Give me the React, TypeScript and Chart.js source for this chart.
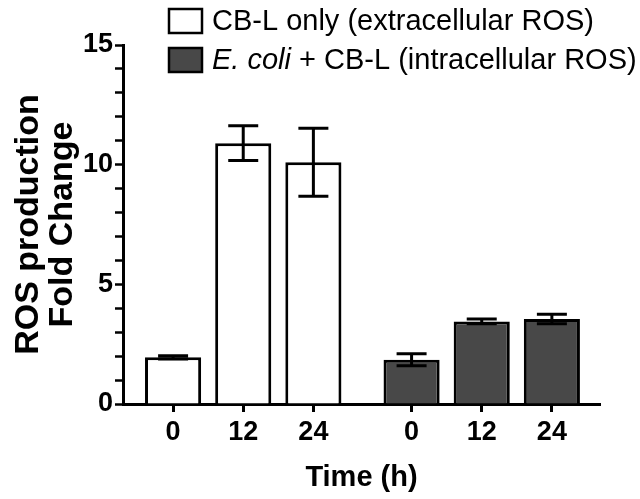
import { useEffect, useRef } from 'react';
import { Chart, registerables } from 'chart.js';

Chart.register(...registerables);

// ---- data ----
const TIME_LABELS = ['0', '12', '24', '0', '12', '24'];
const POSITIONS_A = [1, 2, 3];
const POSITIONS_B = [4.4, 5.4, 6.4];
const EXTRA_VALUES = [1.95, 10.9, 10.1];
const EXTRA_ERRORS = [0.07, 0.73, 1.42];
const INTRA_VALUES = [1.85, 3.45, 3.55];
const INTRA_ERRORS = [0.25, 0.1, 0.2];
const Y_TICK_LABELS = ['0', '5', '10', '15'];
const SERIES_A_LABEL = 'CB-L only (extracellular ROS)';
const SERIES_B_LABEL_ITALIC = 'E. coli';
const SERIES_B_LABEL_REST = ' + CB-L (intracellular ROS)';
const X_TITLE = 'Time (h)';
const Y_TITLE = ['ROS production', 'Fold Change'];

const FONT = '"Liberation Sans", Arial, Helvetica, sans-serif';
const DARK = '#484848';

const errorBarPlugin = {
  id: 'errorBars',
  afterDatasetsDraw(chart: any) {
    const { ctx } = chart;
    const yScale = chart.scales.y;
    chart.data.datasets.forEach((ds: any, di: number) => {
      const meta = chart.getDatasetMeta(di);
      meta.data.forEach((bar: any, i: number) => {
        const v = ds.data[i].y;
        const e = ds.errors[i];
        const x = bar.x;
        const yTop = yScale.getPixelForValue(v + e);
        const yBot = yScale.getPixelForValue(v - e);
        ctx.save();
        ctx.strokeStyle = '#000';
        ctx.lineWidth = 3;
        ctx.beginPath();
        ctx.moveTo(x, yTop);
        ctx.lineTo(x, yBot);
        ctx.moveTo(x - 15, yTop);
        ctx.lineTo(x + 15, yTop);
        ctx.moveTo(x - 15, yBot);
        ctx.lineTo(x + 15, yBot);
        ctx.stroke();
        ctx.restore();
      });
    });
  },
};

const legendPlugin = {
  id: 'customLegend',
  afterDraw(chart: any) {
    const { ctx } = chart;
    const rows = [
      { fill: '#ffffff', parts: [{ t: SERIES_A_LABEL, italic: false }] },
      {
        fill: DARK,
        parts: [
          { t: SERIES_B_LABEL_ITALIC, italic: true },
          { t: SERIES_B_LABEL_REST, italic: false },
        ],
      },
    ];
    const boxX = 169;
    const boxW = 33;
    const boxH = 24;
    const textX = 212;
    const rowY = [21, 60];
    rows.forEach((row, r) => {
      const cy = rowY[r];
      ctx.save();
      ctx.fillStyle = row.fill;
      ctx.strokeStyle = '#000';
      ctx.lineWidth = 2.5;
      ctx.fillRect(boxX, cy - boxH / 2, boxW, boxH);
      ctx.strokeRect(boxX, cy - boxH / 2, boxW, boxH);
      ctx.fillStyle = '#000';
      ctx.textBaseline = 'middle';
      let x = textX;
      row.parts.forEach((p) => {
        ctx.font = `${p.italic ? 'italic ' : ''}29px ${FONT}`;
        ctx.fillText(p.t, x, cy + 1);
        x += ctx.measureText(p.t).width;
      });
      ctx.restore();
    });
  },
};

export default function App() {
  const ref = useRef<HTMLCanvasElement>(null);

  useEffect(() => {
    const canvas = ref.current;
    if (!canvas) return;
    const allPositions = [...POSITIONS_A, ...POSITIONS_B];
    const chart = new Chart(canvas, {
      type: 'bar',
      data: {
        datasets: [
          {
            label: SERIES_A_LABEL,
            data: POSITIONS_A.map((x, i) => ({ x, y: EXTRA_VALUES[i] })),
            errors: EXTRA_ERRORS,
            backgroundColor: '#ffffff',
            borderColor: '#000',
            borderWidth: 3,
          } as any,
          {
            label: SERIES_B_LABEL_ITALIC + SERIES_B_LABEL_REST,
            data: POSITIONS_B.map((x, i) => ({ x, y: INTRA_VALUES[i] })),
            errors: INTRA_ERRORS,
            backgroundColor: DARK,
            borderColor: '#000',
            borderWidth: 3,
          } as any,
        ],
      },
      options: {
        animation: false,
        responsive: false,
        maintainAspectRatio: false,
        grouped: false,
        categoryPercentage: 1,
        barPercentage: 0.8,
        layout: { padding: { top: 45, right: 40, left: 0, bottom: 0 } },
        plugins: { legend: { display: false }, tooltip: { enabled: false } },
        scales: {
          x: {
            type: 'linear',
            min: 0.286,
            max: 7.086,
            offset: false,
            afterFit: (s: any) => {
              s.height = 95;
            },
            afterBuildTicks: (s: any) => {
              s.ticks = allPositions.map((v) => ({ value: v }));
            },
            grid: {
              display: true,
              offset: false,
              drawOnChartArea: false,
              drawTicks: true,
              tickLength: 8,
              tickWidth: 3,
              color: '#000',
            },
            border: { display: true, color: '#000', width: 3 },
            ticks: {
              autoSkip: false,
              maxRotation: 0,
              color: '#000',
              padding: 4,
              font: { family: FONT, size: 27, weight: 'bold' },
              callback: (_v: any, i: number) => TIME_LABELS[i],
            },
            title: {
              display: true,
              text: X_TITLE,
              color: '#000',
              font: { family: FONT, size: 29, weight: 'bold', lineHeight: 1 },
              padding: { top: 0, bottom: 7 },
            },
          },
          y: {
            min: 0,
            max: 15,
            afterFit: (s: any) => {
              s.width = 123;
            },
            grid: {
              display: true,
              drawOnChartArea: false,
              drawTicks: true,
              tickLength: 8,
              tickWidth: 2.5,
              color: '#000',
            },
            border: { display: true, color: '#000', width: 3 },
            ticks: {
              stepSize: 1,
              autoSkip: false,
              color: '#000',
              padding: 2,
              font: { family: FONT, size: 27, weight: 'bold' },
              callback: (v: any) =>
                Number(v) % 5 === 0 ? Y_TICK_LABELS[Number(v) / 5] : '',
            },
            title: {
              display: true,
              text: Y_TITLE,
              color: '#000',
              font: { family: FONT, size: 34, weight: 'bold', lineHeight: 1.0 },
              padding: { top: 12, bottom: 0 },
            },
          },
        },
      } as any,
      plugins: [errorBarPlugin, legendPlugin],
    });
    return () => chart.destroy();
  }, []);

  return (
    <div style={{ position: 'fixed', left: 0, top: 0, width: 640, height: 499, background: '#fff' }}>
      <canvas ref={ref} width={640} height={499} />
    </div>
  );
}
